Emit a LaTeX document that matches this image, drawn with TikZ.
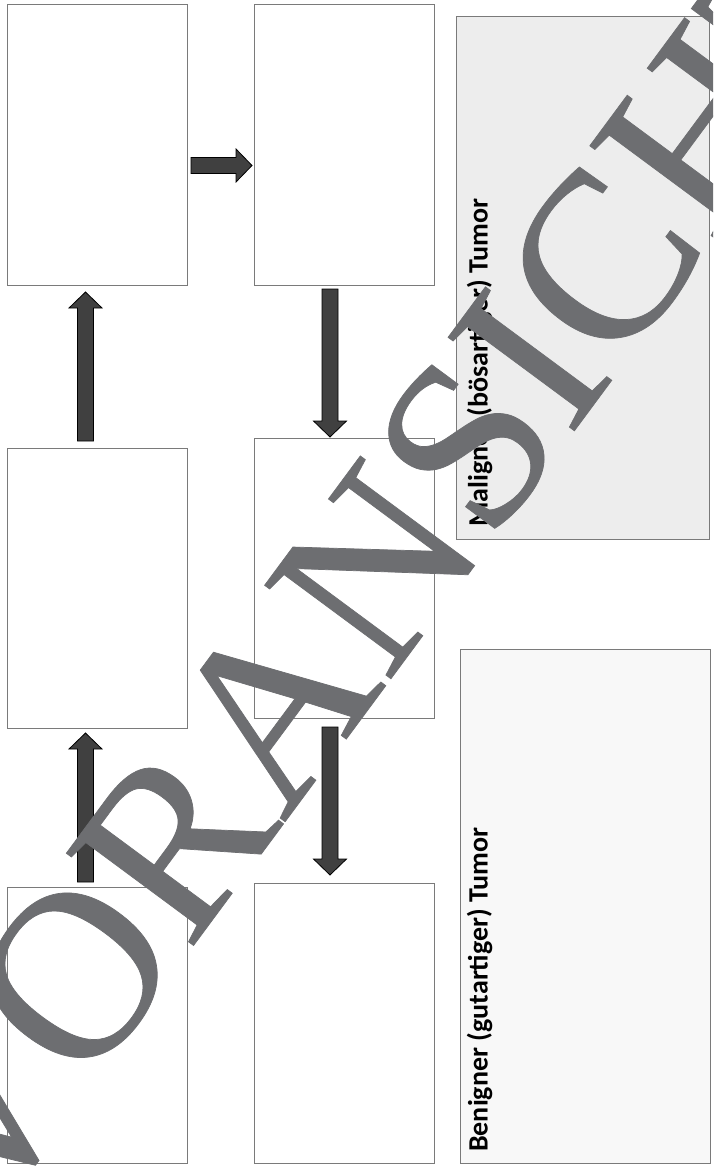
\documentclass[tikz,border=0pt]{standalone}
\usepackage{fontspec}
\setmainfont{Carlito}
\newfontfamily\wmfont{Liberation Serif}[FakeBold=0.3]
\usetikzlibrary{calc}
\definecolor{boxline}{HTML}{7A7A7A}
\definecolor{arrowfill}{HTML}{404040}
\definecolor{malfill}{HTML}{EDEDED}
\definecolor{benfill}{HTML}{F8F8F8}
\definecolor{wmgray}{HTML}{6D6E71}
\tikzset{
  emptybox/.style={draw=boxline, line width=0.9pt, fill=white, rectangle,
    inner sep=0pt, outer sep=0pt, anchor=north west},
  blockarrow/.style={draw=black, fill=arrowfill, line width=0.8pt, line join=miter},
  tumortext/.style={font=\bfseries\fontsize{28}{30}\selectfont, inner sep=0pt,
    rotate=90, anchor=base west},
  wmtext/.style={text=wmgray, font=\wmfont\fontsize{240}{246}\selectfont, inner sep=0pt}
}
\newcommand\blockarrow[2]{%
  \draw[blockarrow] let \p1=#1, \p2=#2,
    \n1={atan2(\y2-\y1,\x2-\x1)}, \n2={veclen(\x2-\x1,\y2-\y1)} in
    [shift={(\p1)}, rotate=\n1]
    (0pt,-8pt) -- ({(\n2-16)*1pt},-8pt) -- ({(\n2-16)*1pt},-16.5pt) -- ({\n2*1pt},0pt)
    -- ({(\n2-16)*1pt},16.5pt) -- ({(\n2-16)*1pt},8pt) -- (0pt,8pt) -- cycle;}
\begin{document}
\begin{tikzpicture}[x=1pt, y=-1pt]
\useasboundingbox (0,0) rectangle (713,1167);
\clip (0,0) rectangle (713,1167);
\fill[white] (0,0) rectangle (713,1167);
% boxes
\node[emptybox, minimum width=180pt, minimum height=281pt] (L1) at (7,4) {};
\node[emptybox, minimum width=180pt, minimum height=281pt] (M1) at (254,4) {};
\node[emptybox, minimum width=180pt, minimum height=280pt] (L2) at (7,448) {};
\node[emptybox, minimum width=180pt, minimum height=280pt] (M2) at (254,438) {};
\node[emptybox, minimum width=180pt, minimum height=276pt] (L3) at (7,887) {};
\node[emptybox, minimum width=180pt, minimum height=280pt] (M3) at (254,883) {};
\node[emptybox, fill=malfill, minimum width=253pt, minimum height=523pt] (R1) at (456,16) {};
\node[emptybox, fill=benfill, minimum width=250pt, minimum height=514pt] (R2) at (460,649) {};
% labels
\node[tumortext] (maltext) at (487.5,527) {Maligner (bösartiger) Tumor};
\node[tumortext] (bentext) at (487.5,1152) {Benigner (gutartiger) Tumor};
% arrows
\blockarrow{($(L2.north)+(-11.5,-7)$)}{($(L1.south)+(-11.5,7)$)}
\blockarrow{($(L1.east)+(4,21)$)}{($(M1.west)+(-2,21)$)}
\blockarrow{($(M1.south)+(-14,4)$)}{($(M2.north)+(-14,-1)$)}
\blockarrow{($(L3.north)+(-11.5,-5)$)}{($(L2.south)+(-11.5,5)$)}
\blockarrow{($(M2.south)+(-14,9)$)}{($(M3.north)+(-14,-8)$)}
% watermark
\node[wmtext, rotate=53.5] (wm) at (380,563) {VORANSICHT};
\end{tikzpicture}
\end{document}
